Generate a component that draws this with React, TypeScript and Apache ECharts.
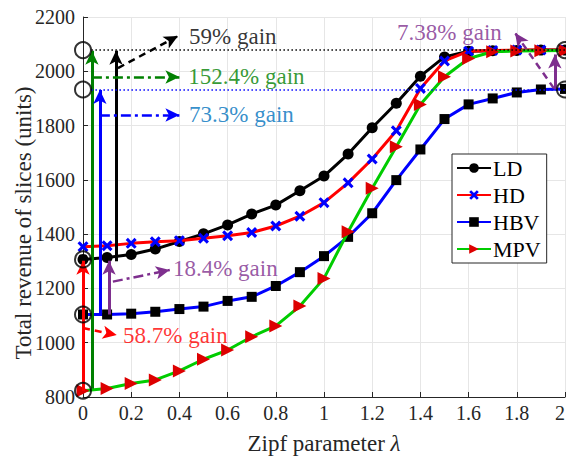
import { useEffect, useRef } from 'react';
import * as echarts from 'echarts';

const lambdas = [0, 0.1, 0.2, 0.3, 0.4, 0.5, 0.6, 0.7, 0.8, 0.9, 1.0, 1.1, 1.2, 1.3, 1.4, 1.5, 1.6, 1.7, 1.8, 1.9, 2.0];
const ldValues = [1307, 1314, 1325, 1345, 1373, 1401, 1434, 1474, 1507, 1560, 1614, 1695, 1792, 1882, 1982, 2053, 2074, 2076, 2077, 2078, 2078];
const hdValues = [1354, 1357, 1366, 1372, 1376, 1385, 1394, 1406, 1430, 1466, 1516, 1589, 1677, 1781, 1937, 2038, 2074, 2077, 2078, 2078, 2078];
const hbvValues = [1104, 1104, 1107, 1114, 1124, 1133, 1154, 1169, 1209, 1260, 1319, 1390, 1477, 1599, 1712, 1824, 1878, 1900, 1922, 1933, 1935];
const mpvValues = [823, 831, 850, 863, 896, 939, 973, 1022, 1062, 1135, 1237, 1409, 1569, 1722, 1878, 1980, 2047, 2072, 2075, 2076, 2077];

const seriesNames = ['LD', 'HD', 'HBV', 'MPV'];
const xTitle = 'Zipf parameter {i|λ}';
const yTitle = 'Total revenue of slices (units)';

// annotation anchors (data coordinates)
const circlePoints = [[0, 2078], [0, 1933], [0, 1307], [0, 1104], [0, 823], [2, 2078], [2, 1933]];
const dottedLevels = [2078, 1933];
const dottedFromX = 0.035;
const gainArrowFrom = [[0, 823], [0.037, 830], [0.07, 1104], [0.137, 1300], [0.108, 1104], [1.958, 1933]];
const gainArrowTo = [[0, 1302], [0.037, 2076], [0.07, 1931], [0.137, 2076], [0.108, 1302], [1.958, 2062]];
const pointerFrom = [[0.145, 2012], [0.037, 1979], [0.07, 1839], [0.124, 1225], [0, 1054], [1.954, 1937]];
const pointerTo = [[0.394, 2130], [0.40, 1979], [0.40, 1839], [0.36, 1268], [0.14, 1028], [1.793, 2141]];
const gainLabels = ['59% gain', '152.4% gain', '73.3% gain', '18.4% gain', '58.7% gain', '7.38% gain'];
const gainLabelAt = [[0.44, 2128], [0.437, 1979], [0.44, 1839], [0.373, 1275], [0.166, 1028], [1.303, 2144]];

const FONT = 'Liberation Serif';
const PURPLE = '#7E2F8E';
const gainArrowColors = ['#ff0000', '#008000', '#0000ff', '#000000', PURPLE, PURPLE];
const pointerColors = ['#000000', '#008000', '#0000ff', PURPLE, '#ff0000', PURPLE];
const pointerTypes: any[] = [[7, 5], [10, 4, 3, 4], [10, 4, 3, 4], [10, 4, 3, 4], [7, 5], [7, 5]];
const labelColors = ['#000000', '#008000', '#0072BD', PURPLE, '#ff0000', PURPLE];
const dottedColors = ['#000000', '#0000ff'];

const crossPath = 'path://M2,0 L5,3 L8,0 L10,2 L7,5 L10,8 L8,10 L5,7 L2,10 L0,8 L3,5 L0,2 Z';

export default function App() {
  const ref = useRef<HTMLDivElement>(null);
  useEffect(() => {
    if (!ref.current) return;
    const chart = echarts.init(ref.current, undefined, { renderer: 'svg' });
    const pairs = (vals: number[]) => lambdas.map((x, i) => [x, vals[i]]);

    const arrowLines: any[] = [];
    gainArrowFrom.forEach((f, i) => {
      arrowLines.push([
        { coord: f, symbol: 'none', lineStyle: { color: gainArrowColors[i], width: 3, type: 'solid' } },
        { coord: gainArrowTo[i], symbol: 'arrow', symbolSize: [10, 14] },
      ]);
    });
    pointerFrom.forEach((f, i) => {
      arrowLines.push([
        { coord: f, symbol: 'none', lineStyle: { color: pointerColors[i], width: 2.5, type: pointerTypes[i] } },
        { coord: pointerTo[i], symbol: 'arrow', symbolSize: [10, 14] },
      ]);
    });
    dottedLevels.forEach((y, i) => {
      arrowLines.push([
        { coord: [dottedFromX, y], symbol: 'none', lineStyle: { color: dottedColors[i], width: 1.5, type: [1.5, 2.5] } },
        { coord: [2, y], symbol: 'none' },
      ]);
    });

    chart.setOption({
      animation: false,
      textStyle: { fontFamily: FONT },
      grid: { left: 83, right: 1, top: 17, bottom: 61, containLabel: false, outerBoundsMode: 'none' },
      graphic: [
        {
          type: 'text', x: 23, y: 223, rotation: Math.PI / 2, silent: true,
          style: { text: yTitle, fontFamily: FONT, fontSize: 23, fill: '#262626', align: 'center', verticalAlign: 'middle' },
        },
      ],
      legend: {
        data: seriesNames,
        orient: 'vertical',
        left: 452,
        top: 154,
        width: 93,
        padding: [3, 6, 3, 4],
        itemGap: 5,
        itemWidth: 34,
        itemHeight: 12,
        borderColor: '#262626',
        borderWidth: 1,
        backgroundColor: '#ffffff',
        textStyle: { fontFamily: FONT, fontSize: 22, color: '#000', padding: [0, 0, 0, -3] },
      },
      xAxis: {
        type: 'value',
        min: 0,
        max: 2,
        interval: 0.2,
        name: xTitle,
        nameLocation: 'middle',
        nameGap: 35,
        nameTextStyle: {
          fontFamily: FONT,
          fontSize: 23,
          color: '#262626',
          rich: { i: { fontStyle: 'italic', fontFamily: FONT, fontSize: 23, color: '#262626' } },
        },
        axisLine: { show: true, lineStyle: { color: '#262626', width: 1 } },
        axisTick: { show: true, inside: true, length: 5, lineStyle: { color: '#262626' } },
        axisLabel: { fontFamily: FONT, fontSize: 20, color: '#262626', margin: 6, alignMaxLabel: 'right', formatter: (v: number) => String(+v.toFixed(1)) },
        splitLine: { show: true, lineStyle: { color: '#e6e6e6', width: 1 } },
      },
      yAxis: {
        type: 'value',
        min: 800,
        max: 2200,
        interval: 200,
        axisLine: { show: true, lineStyle: { color: '#262626', width: 1 } },
        axisTick: { show: true, inside: true, length: 5, lineStyle: { color: '#262626' } },
        axisLabel: { fontFamily: FONT, fontSize: 20, color: '#262626', margin: 8, formatter: (v: number) => String(v) },
        splitLine: { show: true, lineStyle: { color: '#e6e6e6', width: 1 } },
      },
      series: [
        {
          name: 'LD', type: 'line', data: pairs(ldValues), symbol: 'circle', symbolSize: 11,
          lineStyle: { color: '#000', width: 3 }, itemStyle: { color: '#000' }, z: 2,
        },
        {
          name: 'HD', type: 'line', data: pairs(hdValues), symbol: crossPath, symbolSize: 11,
          lineStyle: { color: '#ff0000', width: 3 }, itemStyle: { color: '#0000ff' }, z: 3,
        },
        {
          name: 'HBV', type: 'line', data: pairs(hbvValues), symbol: 'rect', symbolSize: 10,
          lineStyle: { color: '#0000ff', width: 3 }, itemStyle: { color: '#000' }, z: 4,
        },
        {
          name: 'MPV', type: 'line', data: pairs(mpvValues), symbol: 'triangle', symbolRotate: -90, symbolSize: 13,
          lineStyle: { color: '#00cc00', width: 3 }, itemStyle: { color: '#dd0000' }, z: 5,
        },
        {
          name: 'circles', type: 'scatter', data: circlePoints, symbol: 'circle', symbolSize: 16,
          itemStyle: { color: 'rgba(0,0,0,0)', borderColor: '#000', borderWidth: 2 },
          silent: true, z: 12, clip: false,
          markLine: { silent: true, animation: false, label: { show: false }, data: arrowLines, z: 10 },
        },
        {
          name: 'notes', type: 'scatter', symbolSize: 0, silent: true, z: 13, clip: false,
          data: gainLabels.map((t, i) => ({
            name: t,
            value: gainLabelAt[i],
            label: {
              show: true, position: 'right', distance: 0, formatter: '{b}',
              fontFamily: FONT, fontSize: 23, color: labelColors[i],
            },
          })),
        },
      ],
    });
    return () => chart.dispose();
  }, []);
  return <div ref={ref} style={{ position: 'fixed', left: 0, top: 0, width: 566, height: 458, background: '#fff' }} />;
}
